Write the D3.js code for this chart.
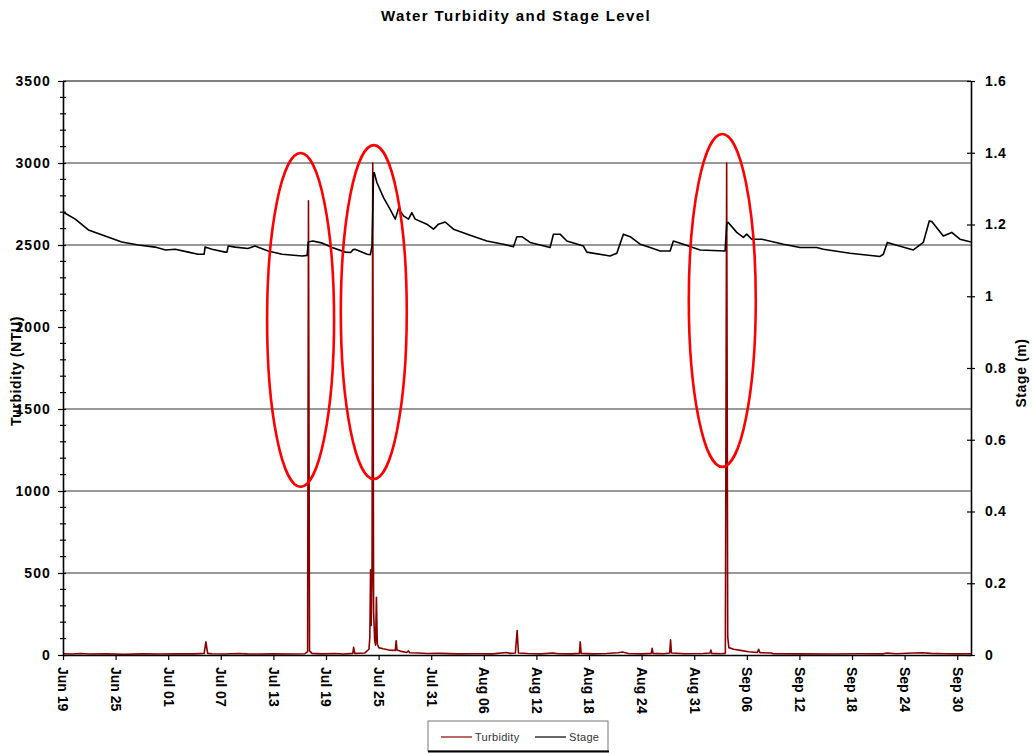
<!DOCTYPE html>
<html><head><meta charset="utf-8">
<script src="https://cdn.jsdelivr.net/npm/d3@7"></script>
<style>
body{margin:0;background:#fff}
svg{display:block}
text{font-family:"Liberation Sans",Arial,sans-serif}
</style>
</head><body>
<svg id="chart" width="1032" height="753"></svg>
<script>
// ---- data ----
const chartTitle = "Water Turbidity and Stage Level";
const xTickLabels = ["Jun 19","Jun 25","Jul 01","Jul 07","Jul 13","Jul 19","Jul 25","Jul 31","Aug 06",
  "Aug 12","Aug 18","Aug 24","Aug 31","Sep 06","Sep 12","Sep 18","Sep 24","Sep 30"];
const daysPerLabel = 6;
const dayExtent = [0, 103.57];
const yLeftTicks = [0,500,1000,1500,2000,2500,3000,3500];
const yRightTicks = [0,0.2,0.4,0.6,0.8,1,1.2,1.4,1.6];
const gridValues = [500,1000,1500,2500,3000];
// [day since Jun 19, NTU]
const turbidity = [[0,8],[1,6],[2,9],[3,6],[5,7],[7,5],[9,7],[11,6],[13,8],[15,7],[16.1,10],[16.3,80],[16.5,10],
 [17,8],[18.5,6],[20,9],[21,7],[22.5,6],[24,8],[26,6],[27.6,8],[27.9,20],[28.0,2770],[28.12,25],[28.4,10],
 [29.5,7],[31,9],[32,6],[33.05,10],[33.15,47],[33.28,10],[34.4,12],[34.9,35],[35.0,110],[35.08,520],[35.15,180],
 [35.25,480],[35.33,3000],[35.43,260],[35.55,90],[35.65,60],[35.75,352],[35.85,70],[36.0,45],[36.5,38],[37.2,30],
 [37.9,28],[38.0,87],[38.1,30],[38.6,22],[39.2,15],[39.4,25],[39.55,14],[40.5,12],[41.5,9],[43,10],[45,7],[47,8],
 [49,7],[50.6,15],[51.0,10],[51.6,12],[51.8,149],[51.95,12],[53,9],[54.5,7],[55.9,12],[56.5,8],[58,7],[58.9,10],
 [59.0,81],[59.1,10],[60.5,7],[62,9],[63.3,14],[63.8,18],[64.5,9],[66,7],[67.1,10],[67.2,41],[67.3,10],[68.5,8],
 [69.2,12],[69.3,92],[69.4,12],[71,8],[73,9],[73.8,12],[73.9,30],[74.0,10],[75,8],[75.55,10],[75.7,3000],
 [75.82,110],[75.95,45],[76.5,35],[77.3,28],[78.2,20],[79.2,15],[79.35,35],[79.5,14],[80.8,12],[81,8],[84,7],
 [88,6],[91,8],[93.5,7],[94,12],[95,8],[97,12],[98,14],[99,10],[100.5,8],[102,7],[103.57,8]];
// [day since Jun 19, metres]
const stage = [[0,1.235],[1.4,1.215],[2.9,1.185],[4.8,1.168],[6.7,1.151],[8.6,1.143],[10.5,1.137],[11.7,1.129],
 [12.8,1.131],[14.3,1.123],[15.4,1.117],[16.1,1.117],[16.2,1.137],[17.0,1.131],[18.5,1.123],[18.7,1.123],
 [18.85,1.140],[19.65,1.137],[21.1,1.133],[21.9,1.140],[23.4,1.126],[25.0,1.117],[27.3,1.112],[27.85,1.114],
 [27.97,1.151],[28.5,1.154],[29.6,1.148],[30.7,1.136],[32.2,1.123],[32.8,1.122],[33.1,1.130],[33.3,1.131],
 [34.7,1.117],[35.05,1.116],[35.25,1.140],[35.42,1.343],[35.5,1.345],[35.8,1.317],[36.56,1.275],[37.3,1.243],
 [37.9,1.215],[38.27,1.245],[38.84,1.224],[39.41,1.215],[39.79,1.233],[40.17,1.215],[41.5,1.201],[42.26,1.187],
 [42.83,1.201],[43.59,1.207],[44.54,1.187],[46.44,1.170],[48.35,1.154],[50.24,1.145],[51.38,1.138],[51.77,1.166],
 [52.34,1.166],[53.28,1.150],[55.56,1.136],[55.94,1.173],[56.7,1.173],[57.47,1.154],[59.36,1.140],[59.75,1.123],
 [62.41,1.112],[63.17,1.120],[63.92,1.173],[64.69,1.166],[65.83,1.145],[66.97,1.136],[68.11,1.126],[69.25,1.126],
 [69.62,1.154],[70.76,1.145],[72.67,1.129],[75.52,1.126],[75.71,1.201],[75.86,1.206],[76.85,1.178],[77.61,1.164],
 [77.99,1.173],[78.56,1.159],[79.7,1.159],[82.17,1.145],[84.07,1.136],[85.97,1.136],[86.73,1.131],[89.77,1.120],
 [93.19,1.111],[93.57,1.117],[94.03,1.150],[95.1,1.142],[96.99,1.129],[97.38,1.136],[98.13,1.150],[98.81,1.210],
 [99.12,1.208],[100.41,1.168],[101.37,1.178],[102.31,1.159],[103.57,1.151]];
// highlight ellipses in data units: centre day, centre NTU, half-width (days), half-height (NTU)
const highlights = [[27.1,2043,3.82,1018],[35.45,2091,3.76,1018],[75.2,2162,3.82,1015]];
const legendItems = [["Turbidity","#8b0000"],["Stage","#000"]];

// ---- drawing ----
const svg = d3.select("#chart");
const L = 63, R = 971, T = 81, B = 655;
const x = d3.scaleLinear().domain(dayExtent).range([L, R]);
const yL = d3.scaleLinear().domain([0, 3500]).range([B, T]);
const yR = d3.scaleLinear().domain([0, 1.6]).range([B, T]);

svg.append("rect").attr("width",1032).attr("height",753).attr("fill","#fff");

svg.append("text").attr("x",516).attr("y",21).attr("text-anchor","middle")
  .attr("font-size",15).attr("font-weight","bold").attr("letter-spacing",1.4).text(chartTitle);

// gridlines
svg.append("g").selectAll("line").data(gridValues).join("line")
  .attr("x1",L).attr("x2",R).attr("y1",d=>yL(d)).attr("y2",d=>yL(d))
  .attr("stroke","#333").attr("stroke-width",1);
// top frame
svg.append("line").attr("x1",L).attr("x2",R).attr("y1",T).attr("y2",T).attr("stroke","#000").attr("stroke-width",1);

// turbidity line
svg.append("path").datum(turbidity)
  .attr("d", d3.line().x(d=>x(d[0])).y(d=>yL(d[1])))
  .attr("fill","none").attr("stroke","#8b0000").attr("stroke-width",1.6).attr("stroke-linejoin","round");
// stage line
svg.append("path").datum(stage)
  .attr("d", d3.line().x(d=>x(d[0])).y(d=>yR(d[1])))
  .attr("fill","none").attr("stroke","#000").attr("stroke-width",1.6).attr("stroke-linejoin","round");

// left axis
const gL = svg.append("g").attr("transform",`translate(${L},0)`)
  .call(d3.axisLeft(yL).tickValues(yLeftTicks).tickFormat(d3.format("d")).tickSizeInner(5).tickSizeOuter(0).tickPadding(7));
gL.select(".domain").attr("stroke","#000").attr("stroke-width",1.6);
gL.selectAll(".tick line").attr("x1",3).attr("stroke-width",1.2);
gL.selectAll(".tick text").attr("font-size",14).attr("font-weight","bold").attr("letter-spacing",1.1)
  .attr("font-family","Liberation Sans, Arial, sans-serif").attr("fill","#000");
const minor = d3.range(100,3500,100).filter(v=>v%500!==0);
gL.append("g").selectAll("line").data(minor).join("line")
  .attr("x1",-3).attr("x2",3).attr("y1",d=>yL(d)).attr("y2",d=>yL(d)).attr("stroke","#000").attr("stroke-width",1.2);

// right axis
const gR = svg.append("g").attr("transform",`translate(${R},0)`)
  .call(d3.axisRight(yR).tickValues(yRightTicks).tickFormat(d=>d===0?"0":d3.format("")(+d.toFixed(1))).tickSizeInner(4).tickSizeOuter(0).tickPadding(10));
gR.select(".domain").attr("stroke","#000").attr("stroke-width",1.6);
gR.selectAll(".tick line").attr("x1",-4).attr("stroke-width",1.2);
gR.selectAll(".tick text").attr("font-size",14).attr("font-weight","bold").attr("letter-spacing",0.6)
  .attr("font-family","Liberation Sans, Arial, sans-serif").attr("fill","#000");

// bottom axis
const gB = svg.append("g").attr("transform",`translate(0,${B})`)
  .call(d3.axisBottom(x).tickValues(xTickLabels.map((_,i)=>i*daysPerLabel))
    .tickFormat((d,i)=>xTickLabels[i]).tickSizeInner(5).tickSizeOuter(0));
gB.select(".domain").attr("stroke","#000").attr("stroke-width",1.6);
gB.selectAll(".tick line").attr("stroke-width",1.2);
gB.selectAll(".tick text").attr("font-size",14).attr("font-weight","bold")
  .attr("font-family","Liberation Sans, Arial, sans-serif").attr("fill","#000")
  .attr("text-anchor","start").attr("transform","rotate(90)")
  .attr("x",12).attr("y",0).attr("dy","0.36em");

// axis titles
svg.append("text").attr("transform","translate(21,371) rotate(-90)").attr("text-anchor","middle")
  .attr("font-size",14).attr("font-weight","bold").attr("letter-spacing",0.6).text("Turbidity (NTU)");
svg.append("text").attr("transform","translate(1026,373) rotate(-90)").attr("text-anchor","middle")
  .attr("font-size",14).attr("font-weight","bold").attr("letter-spacing",0.6).text("Stage (m)");

// highlight ellipses
svg.append("g").selectAll("ellipse").data(highlights).join("ellipse")
  .attr("cx",d=>x(d[0])).attr("cy",d=>yL(d[1]))
  .attr("rx",d=>x(d[2])-x(0)).attr("ry",d=>yL(0)-yL(d[3]))
  .attr("fill","none").attr("stroke","#ff0000").attr("stroke-width",2.6);

// legend
const lg = svg.append("g");
lg.append("rect").attr("x",428).attr("y",721).attr("width",180).attr("height",30)
  .attr("fill","#fff").attr("stroke","#777").attr("stroke-width",1);
lg.append("line").attr("x1",428).attr("x2",609).attr("y1",751.5).attr("y2",751.5).attr("stroke","#000").attr("stroke-width",2);
const legX = [441, 535];
lg.selectAll("g").data(legendItems).join("g").each(function(d,i){
  const g = d3.select(this);
  g.append("line").attr("x1",legX[i]).attr("x2",legX[i]+31).attr("y1",737).attr("y2",737)
    .attr("stroke",d[1]).attr("stroke-width",1.2);
  g.append("text").attr("x",legX[i]+34).attr("y",741).attr("font-size",11).attr("letter-spacing",0.3)
    .attr("fill","#333").text(d[0]);
});
</script>
</body></html>
